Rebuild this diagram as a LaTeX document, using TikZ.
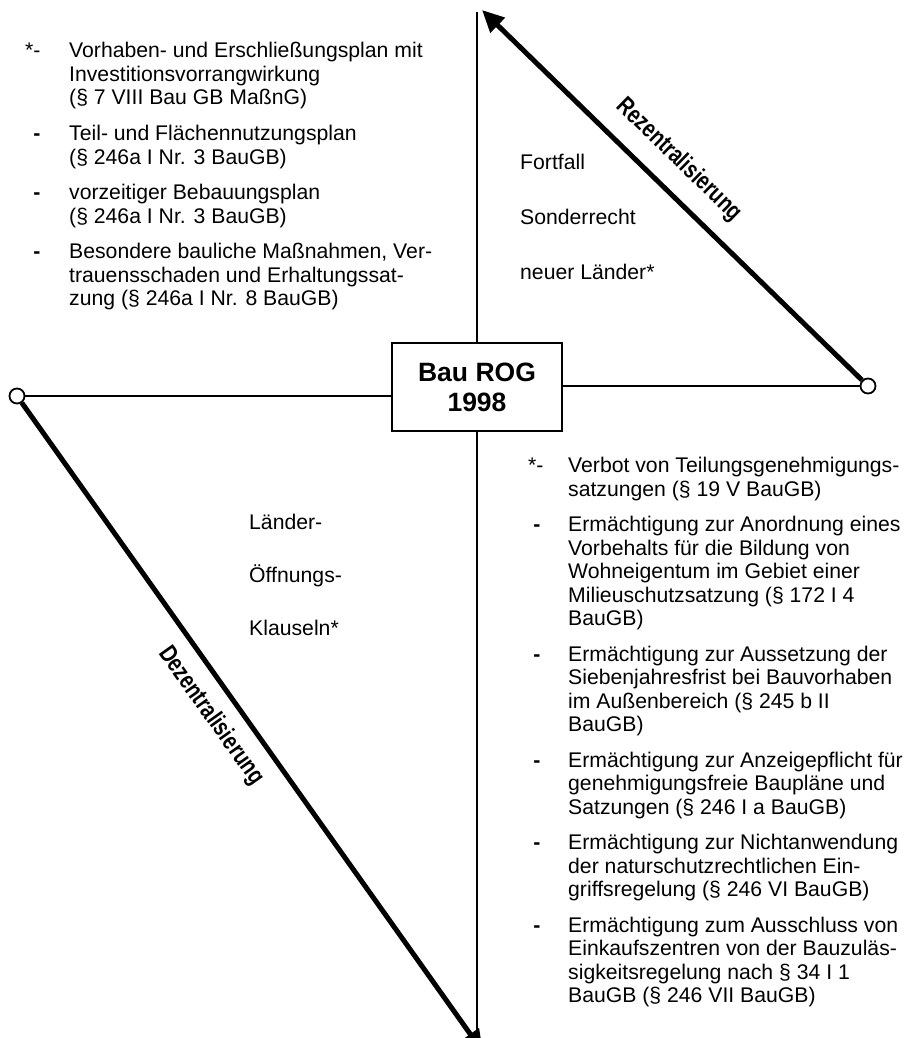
\documentclass[tikz,border=0pt]{standalone}
\usepackage{fontspec}
\usepackage{graphicx}
\setmainfont{Liberation Sans}
\usetikzlibrary{arrows.meta}
\newcommand\txtlines[4]{%
  \foreach \t [count=\k] in {#4}{%
    \node[txt] (#1\k) at (#2,{#3+(\k-1)*23.5}) {\t};}}
\begin{document}
\begin{tikzpicture}[x=1pt,y=-1pt,
  txt/.style={anchor=base west, inner sep=0pt, font=\fontsize{21.2}{23.5}\selectfont},
  bul/.style={anchor=base, inner sep=0pt, font=\fontsize{21.2}{23.5}\selectfont\bfseries},
  star/.style={anchor=base west, inner sep=0pt, font=\fontsize{21.2}{23.5}\selectfont},
  thinline/.style={line width=1.4pt},
  heavy/.style={line width=5pt, -{Triangle[length=22pt,width=20pt]}},
  ring/.style={circle, draw, line width=1.8pt, fill=white, minimum size=15pt, inner sep=0pt},
  centre/.style={draw, line width=1.4pt, fill=white, minimum width=170pt, minimum height=88pt, align=center, inner sep=0pt, font=\fontsize{26.5}{30}\selectfont\bfseries},
  diag/.style={inner sep=0pt, font=\fontsize{25}{27}\selectfont\bfseries}
]
\useasboundingbox (0,0) rectangle (909,1038);

% centre box, circles, coordinates
\node[centre] (box) at (477,387) {Bau ROG\\1998};
\node[ring] (lc) at (17,396) {};
\node[ring] (rc) at (868,386) {};
\coordinate (toptip) at (482,10);
\coordinate (bottip) at (483,1052);
\coordinate (vtop) at (477,12);
\coordinate (vbot) at (477,1040);

% connectors
\draw[thinline] (box.north) -- (vtop);
\draw[thinline] (box.south) -- (vbot);
\draw[thinline] (lc) -- (lc -| box.west);
\draw[thinline] (rc) -- (rc -| box.east);
\draw[heavy] (rc) -- (toptip);
\draw[heavy] (lc) -- (bottip);

% diagonal labels
\node[diag, rotate=-44.2] (rez) at (679,160) {\scalebox{0.78}[1]{Rezentralisierung}};
\node[diag, rotate=-54.6] (dez) at (211,716) {\scalebox{0.78}[1]{Dezentralisierung}};

% quadrant words
\node[txt] (f1) at (520,169.5) {Fortfall};
\node[txt] (f2) at (520,224.5) {Sonderrecht};
\node[txt] (f3) at (520,279.5) {neuer Länder*};
\node[txt] (o1) at (249,529.5) {Länder-};
\node[txt] (o2) at (249,582.5) {Öffnungs-};
\node[txt] (o3) at (249,635.5) {Klauseln*};

% upper left list
\node[star] (ls1) at (25,58) {*-};
\txtlines{La}{69}{58}{{Vorhaben- und Erschließungsplan mit},{Investitionsvorrangwirkung},{(§ 7 VIII Bau GB MaßnG)}}
\node[bul] (ld2) at (37,140.5) {-};
\txtlines{Lb}{69}{140.5}{{Teil- und Flächennutzungsplan},{(§ 246a I Nr. 3 BauGB)}}
\node[bul] (ld3) at (37,199.5) {-};
\txtlines{Lc}{69}{199.5}{{vorzeitiger Bebauungsplan},{(§ 246a I Nr. 3 BauGB)}}
\node[bul] (ld4) at (37,258.5) {-};
\txtlines{Ld}{69}{258.5}{{Besondere bauliche Maßnahmen, Ver-},{trauensschaden und Erhaltungssat-},{zung (§ 246a I Nr. 8 BauGB)}}

% lower right list
\node[star] (rs1) at (528,472.5) {*-};
\txtlines{Ra}{568}{472.5}{{Verbot von Teilungsgenehmigungs-},{satzungen (§ 19 V BauGB)}}
\node[bul] (rd2) at (537,531.5) {-};
\txtlines{Rb}{568}{531.5}{{Ermächtigung zur Anordnung eines},{Vorbehalts für die Bildung von},{Wohneigentum im Gebiet einer},{Milieuschutzsatzung (§ 172 I 4},{BauGB)}}
\node[bul] (rd3) at (537,661) {-};
\txtlines{Rc}{568}{661}{{Ermächtigung zur Aussetzung der},{Siebenjahresfrist bei Bauvorhaben},{im Außenbereich (§ 245 b II},{BauGB)}}
\node[bul] (rd4) at (537,767) {-};
\txtlines{Rd}{568}{767}{{Ermächtigung zur Anzeigepflicht für},{genehmigungsfreie Baupläne und},{Satzungen (§ 246 I a BauGB)}}
\node[bul] (rd5) at (537,849.5) {-};
\txtlines{Re}{568}{849.5}{{Ermächtigung zur Nichtanwendung},{der naturschutzrechtlichen Ein-},{griffsregelung (§ 246 VI BauGB)}}
\node[bul] (rd6) at (537,932) {-};
\txtlines{Rf}{568}{932}{{Ermächtigung zum Ausschluss von},{Einkaufszentren von der Bauzuläs-},{sigkeitsregelung nach § 34 I 1},{BauGB (§ 246 VII BauGB)}}
\end{tikzpicture}
\end{document}
